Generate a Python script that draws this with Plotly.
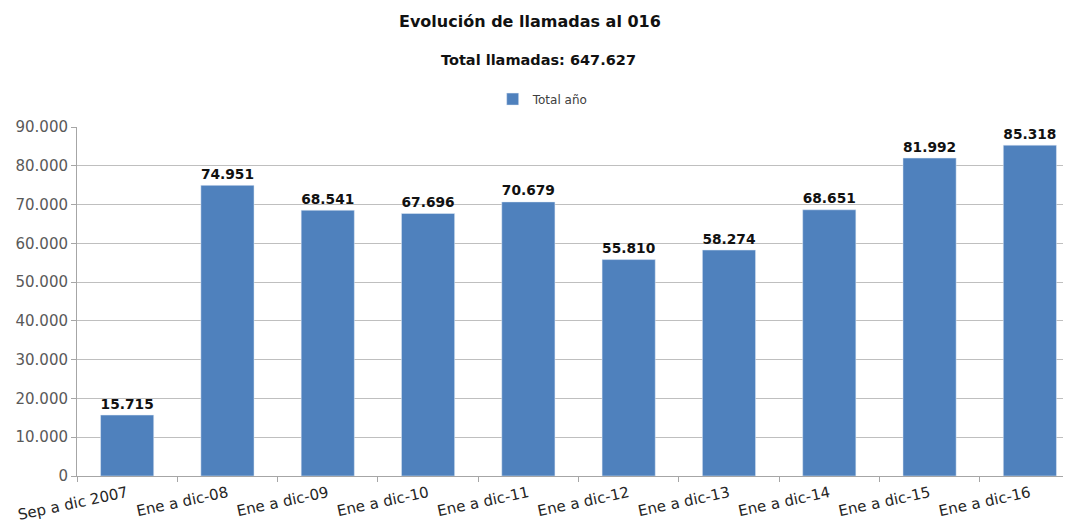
import plotly.graph_objects as go

# Datos
periodos = ['Sep a dic 2007', 'Ene a dic-08', 'Ene a dic-09', 'Ene a dic-10', 'Ene a dic-11',
            'Ene a dic-12', 'Ene a dic-13', 'Ene a dic-14', 'Ene a dic-15', 'Ene a dic-16']
llamadas = [15715, 74951, 68541, 67696, 70679, 55810, 58274, 68651, 81992, 85318]
total_llamadas = 647627

FONT = "'DejaVu Sans', sans-serif"

fig = go.Figure()
fig.add_trace(
    go.Bar(
        x=periodos,
        y=llamadas,
        name='Total año',
        marker=dict(color='#4F81BD'),
        texttemplate='%{y:,}',
        textposition='outside',
        textfont=dict(family=FONT, size=16, color='#111111', weight='bold'),
        cliponaxis=False,
    )
)

# la página añade 8px de margen al cuerpo, así que la figura es algo menor que la ventana
fig.update_layout(
    width=1063,
    height=514,
    separators=',.',
    plot_bgcolor='white',
    paper_bgcolor='white',
    font=dict(family=FONT, color='#404040'),
    margin=dict(l=69, r=0, t=119, b=46, autoexpand=False),
    bargap=0.47,
    showlegend=True,
    legend=dict(orientation='h', x=0.469, xanchor='center', y=1.08, yanchor='middle',
                font=dict(size=12, color='#404040'), itemwidth=30),
)

fig.add_annotation(text='<b>Evolución de llamadas al 016</b>', xref='paper', yref='paper',
                   x=0.456, y=1.0, yshift=117, showarrow=False,
                   font=dict(family=FONT, size=16, color='#111111'))
fig.add_annotation(text=f'<b>Total llamadas: {total_llamadas:,}</b>'.replace(',', '.'),
                   xref='paper', yref='paper', x=0.464, y=1.0, yshift=77, showarrow=False,
                   font=dict(family=FONT, size=14.5, color='#111111'))

fig.update_xaxes(
    range=[-0.5, 9.41],
    tickangle=-12,
    tickfont=dict(size=15, color='#262626'),
    ticklabelstandoff=2,
    showline=True, linecolor='#A6A6A6',
    ticks='outside', tickcolor='#A6A6A6', ticklen=5,
    tickson='boundaries',
    automargin=False,
)
fig.update_yaxes(
    range=[0, 90000],
    dtick=10000,
    tickformat=',',
    tickfont=dict(size=15, color='#595959'),
    showgrid=True, gridcolor='#BFBFBF',
    showline=True, linecolor='#A6A6A6',
    ticks='outside', tickcolor='#A6A6A6', ticklen=5,
    zeroline=False,
    automargin=False,
)

fig.write_html("out.html")
